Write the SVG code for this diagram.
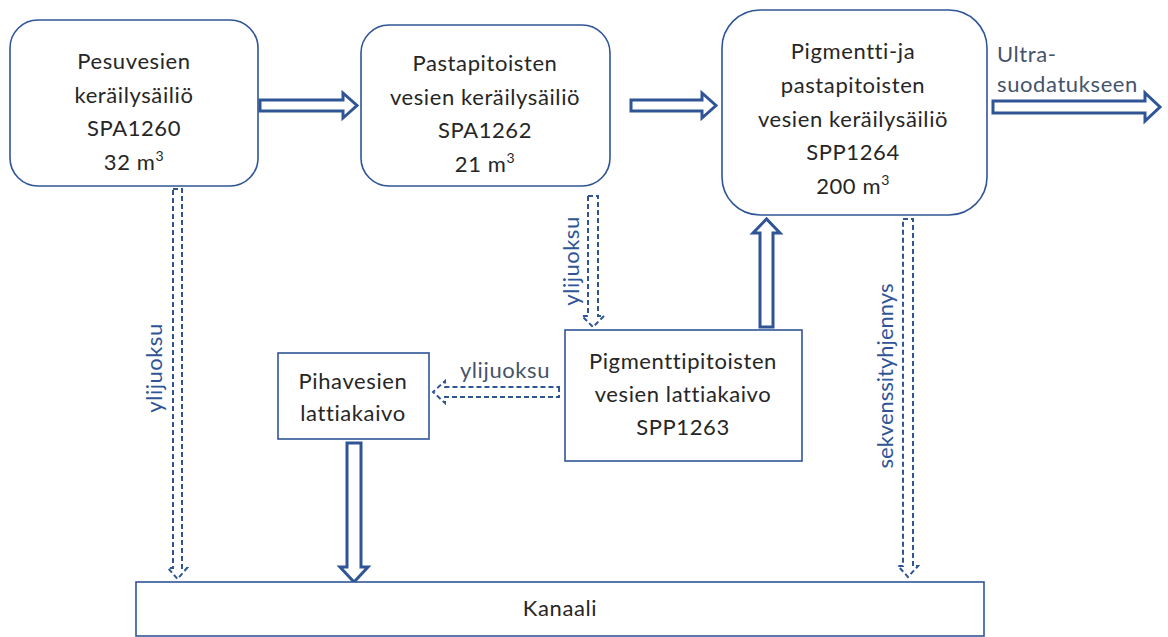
<svg xmlns="http://www.w3.org/2000/svg" width="1168" height="637" viewBox="0 0 1168 637">
<style>
text{font-variant-ligatures:none;font-feature-settings:"liga" 0,"dlig" 0}
.box{fill:#fff;stroke:#2F5597;stroke-width:1.6}
.t{font-family:Lato,"Open Sans",sans-serif;font-size:22px;letter-spacing:0.6px;fill:#262626;text-anchor:middle}
.lbl{font-family:Lato,"Open Sans",sans-serif;font-size:22px;letter-spacing:0.5px;fill:#2F5597;text-anchor:middle}
.lbl2{font-family:Lato,"Open Sans",sans-serif;font-size:22px;letter-spacing:0.6px;fill:#44546A}
.solid{fill:#fff;stroke:#2F5597;stroke-width:3;stroke-linejoin:miter}
.dash{fill:#fff;stroke:#2F5597;stroke-width:2;stroke-dasharray:5 3}
</style>
<rect width="1168" height="637" fill="#fff"/>
<g id="connectors">
<path class="solid" d="M260,100 H343 V93 L357,105.5 L343,118 V111 H260 Z"/>
<path class="solid" d="M631,100 H702 V93 L716,105.5 L702,118 V111 H631 Z"/>
<path class="solid" d="M993,101 H1145 V93 L1160,107 L1145,121 V113 H993 Z"/>
<path class="solid" d="M760,327 V233 H753 L766.5,219 L780,233 H773 V327 Z"/>
<path class="solid" d="M347,443 V567 H340 L354,582 L368,567 H361 V443 Z"/>
<path class="dash" d="M173,189 H182 V568 H187 L177.5,579 L168,568 H173 Z"/>
<path class="dash" d="M588,196 H598 V316 H604 L593,327 L582,316 H588 Z"/>
<path class="dash" d="M903,219 H913 V566 H918 L908,577 L898,566 H903 Z"/>
<path class="dash" d="M559,387 V397 H445 V403 L433,392 L445,381 V387 Z"/>
<text class="lbl" transform="translate(162,368) rotate(-90)">ylijuoksu</text>
<text class="lbl" transform="translate(579,261) rotate(-90)">ylijuoksu</text>
<text class="lbl2" x="505" y="378" text-anchor="middle">ylijuoksu</text>
<text class="lbl" style="letter-spacing:0" transform="translate(893,376) rotate(-90)">sekvenssityhjennys</text>
<text class="lbl2" x="997" y="62">Ultra-</text>
<text class="lbl2" x="997" y="92">suodatukseen</text>
</g>
<g id="spa1260">
<rect class="box" x="10" y="20" width="248" height="166" rx="28"/>
<text class="t" x="134" y="69">Pesuvesien</text>
<text class="t" x="134" y="103">keräilysäiliö</text>
<text class="t" x="134" y="136">SPA1260</text>
<text class="t" x="134" y="170">32 m<tspan dy="-9" font-size="14">3</tspan></text>
</g>
<g id="spa1262">
<rect class="box" x="361" y="25" width="249" height="161" rx="28"/>
<text class="t" x="485" y="71">Pastapitoisten</text>
<text class="t" x="485" y="105">vesien keräilysäiliö</text>
<text class="t" x="485" y="138">SPA1262</text>
<text class="t" x="485" y="172">21 m<tspan dy="-9" font-size="14">3</tspan></text>
</g>
<g id="spp1264">
<rect class="box" x="722" y="10" width="265" height="205" rx="38"/>
<text class="t" x="853" y="59">Pigmentti-ja</text>
<text class="t" x="853" y="93">pastapitoisten</text>
<text class="t" x="853" y="127">vesien keräilysäiliö</text>
<text class="t" x="853" y="160">SPP1264</text>
<text class="t" x="853" y="194">200 m<tspan dy="-9" font-size="14">3</tspan></text>
</g>
<g id="spp1263">
<rect class="box" x="565" y="330" width="237" height="131"/>
<text class="t" x="683" y="369">Pigmenttipitoisten</text>
<text class="t" x="683" y="402">vesien lattiakaivo</text>
<text class="t" x="683" y="435">SPP1263</text>
</g>
<g id="pihavesien">
<rect class="box" x="278" y="353" width="151" height="86"/>
<text class="t" x="353" y="389">Pihavesien</text>
<text class="t" x="353" y="421">lattiakaivo</text>
</g>
<g id="kanaali">
<rect class="box" x="136" y="582" width="848" height="54"/>
<text class="t" x="560" y="616">Kanaali</text>
</g>
</svg>
